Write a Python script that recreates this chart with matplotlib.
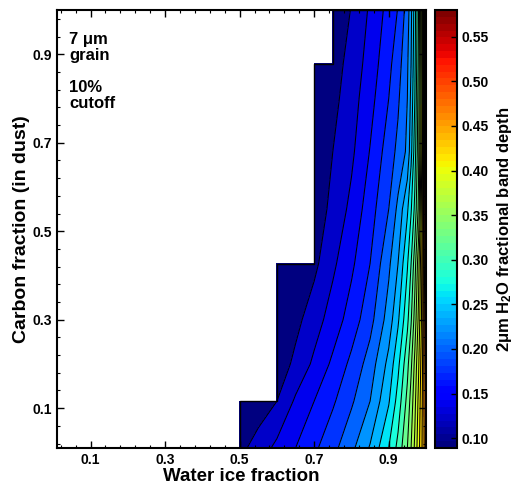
import numpy as np
import matplotlib
matplotlib.use("Agg")
import matplotlib.pyplot as plt
from matplotlib.colors import Normalize
from matplotlib.cm import ScalarMappable
from matplotlib.ticker import MultipleLocator

plt.rcParams["font.family"] = ["Liberation Sans", "DejaVu Sans"]
plt.rcParams["font.weight"] = "bold"
plt.rcParams["mathtext.fontset"] = "custom"
plt.rcParams["mathtext.default"] = "bf"
plt.rcParams["mathtext.bf"] = "Liberation Sans:bold"
plt.rcParams["mathtext.rm"] = "Liberation Sans:bold"

# grid (white = below cutoff)
water = [0.5, 0.55, 0.6, 0.65, 0.7, 0.75, 0.8, 0.85, 0.9, 0.925, 0.95, 0.96, 0.97, 0.98, 0.99, 1.0]
carbon = [0.01, 0.116, 0.2, 0.3, 0.427, 0.55, 0.68, 0.8, 0.878, 1.0]
nan = np.nan
depth = [
    [0.114, 0.129, 0.145, 0.160, 0.176, 0.194, 0.215, 0.242, 0.280, 0.306, 0.340, 0.360, 0.384, 0.412, 0.442, 0.478],
    [0.095, 0.108, 0.120, 0.143, 0.160, 0.177, 0.197, 0.220, 0.258, 0.288, 0.326, 0.348, 0.374, 0.405, 0.440, 0.485],
    [nan, nan, 0.107, 0.125, 0.144, 0.164, 0.185, 0.209, 0.246, 0.275, 0.314, 0.336, 0.365, 0.397, 0.436, 0.495],
    [nan, nan, 0.096, 0.114, 0.131, 0.149, 0.169, 0.193, 0.229, 0.257, 0.295, 0.318, 0.348, 0.385, 0.430, 0.505],
    [nan, nan, 0.090, 0.100, 0.115, 0.136, 0.156, 0.180, 0.216, 0.240, 0.278, 0.300, 0.331, 0.372, 0.427, 0.520],
    [nan, nan, nan, nan, 0.107, 0.126, 0.145, 0.171, 0.200, 0.225, 0.257, 0.278, 0.305, 0.345, 0.420, 0.540],
    [nan, nan, nan, nan, 0.100, 0.120, 0.136, 0.161, 0.190, 0.205, 0.224, 0.254, 0.290, 0.335, 0.410, 0.560],
    [nan, nan, nan, nan, 0.095, 0.114, 0.131, 0.153, 0.180, 0.197, 0.220, 0.245, 0.280, 0.330, 0.405, 0.570],
    [nan, nan, nan, nan, 0.092, 0.110, 0.128, 0.148, 0.175, 0.191, 0.217, 0.240, 0.275, 0.325, 0.400, 0.575],
    [nan, nan, nan, nan, nan, 0.104, 0.121, 0.143, 0.167, 0.181, 0.209, 0.235, 0.270, 0.320, 0.400, 0.580],
]
levels = [0.085] + list(np.round(np.arange(0.12, 0.605, 0.02), 2))
cbar_ticks = [0.1, 0.15, 0.2, 0.25, 0.3, 0.35, 0.4, 0.45, 0.5, 0.55]
xticks = [0.1, 0.3, 0.5, 0.7, 0.9]

cmap = plt.get_cmap("jet", 64)
norm = Normalize(0.089, 0.58)

fig = plt.figure(figsize=(5.15, 4.84), dpi=100)
ax = fig.add_axes([57 / 515, 36 / 484, 369 / 515, 438 / 484])
cax = fig.add_axes([435 / 515, 36 / 484, 22 / 515, 438 / 484])

Z = np.ma.masked_invalid(np.array(depth))
# matlab-style: each band takes the colour of its lower level
fills = [cmap(norm(max(l, 0.089))) for l in levels[:-1]]
ax.contourf(water, carbon, Z, levels=levels, colors=fills, corner_mask=False)
ax.contour(water, carbon, Z, levels=levels[1:-1], colors="k", linewidths=0.75,
           corner_mask=False)
# black outline round the region above the cutoff
edge = ax.contourf(water, carbon, Z, levels=[0, 1], colors="none", corner_mask=False)
edge.set_edgecolor("k")
edge.set_linewidth(1.0)

ax.set_xlim(0.01, 1.0); ax.set_ylim(0.01, 1.0)
ax.set_xticks(xticks); ax.set_yticks(xticks)
ax.xaxis.set_minor_locator(MultipleLocator(0.04, offset=0.02))
ax.yaxis.set_minor_locator(MultipleLocator(0.04, offset=0.02))
ax.tick_params(which="both", direction="in", top=True, right=True, labelsize=10)
ax.tick_params(which="major", length=5, width=1)
ax.tick_params(which="minor", length=2.5, width=0.8)
for s in ax.spines.values():
    s.set_linewidth(1.5)
ax.set_xlabel("Water ice fraction", fontsize=13.5, fontweight="bold", labelpad=1)
ax.set_ylabel("Carbon fraction (in dust)", fontsize=14, fontweight="bold", labelpad=2)

ax.text(0.033, 0.95, "7 μm\ngrain", transform=ax.transAxes, fontsize=12,
        fontweight="bold", va="top", ha="left", linespacing=1.1)
ax.text(0.033, 0.84, "10%\ncutoff", transform=ax.transAxes, fontsize=12,
        fontweight="bold", va="top", ha="left", linespacing=1.1)

sm = ScalarMappable(norm=norm, cmap=cmap)
cb = fig.colorbar(sm, cax=cax, ticks=cbar_ticks)
cb.ax.tick_params(direction="in", length=4, width=1, labelsize=10, right=True)
cb.outline.set_linewidth(1.5)
cb.set_label(r"2μm H$_2$O fractional band depth", fontsize=12, fontweight="bold", labelpad=4)

fig.savefig("out.png", dpi=100)
